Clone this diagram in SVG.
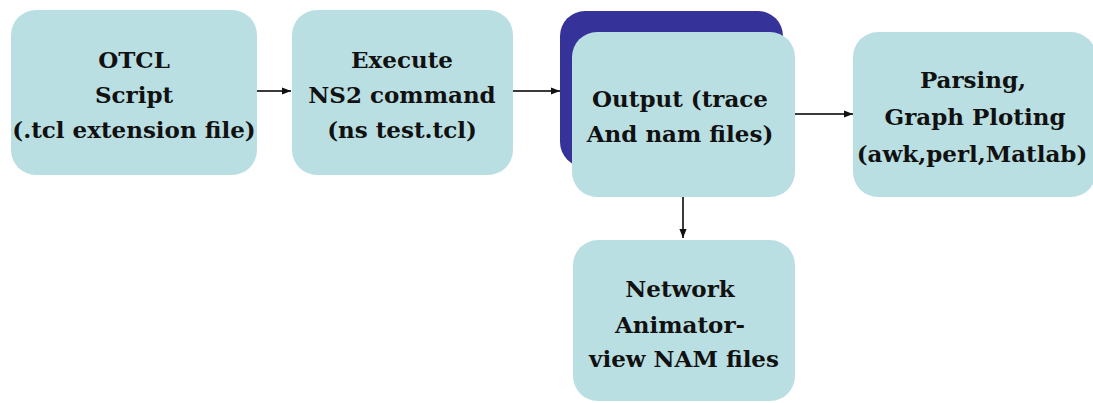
<svg xmlns="http://www.w3.org/2000/svg" width="1093" height="403" viewBox="0 0 1093 403">
  <defs>
    <style>
      .box { fill: #badfe2; }
      .back { fill: #353399; }
      .label { font-family: "DejaVu Serif", "Liberation Serif", serif; font-weight: bold; font-size: 23px; fill: #111; text-anchor: middle; }
      .link { stroke: #3a3a3a; stroke-width: 2; fill: none; }
    </style>
    <marker id="arrow" viewBox="0 0 10 10" refX="10" refY="5" markerWidth="9" markerHeight="9" markerUnits="userSpaceOnUse" orient="auto">
      <path d="M0,1 L10,5 L0,9 Z" fill="#111"/>
    </marker>
  </defs>
  <rect width="1093" height="403" fill="#ffffff"/>

  <g id="connectors">
    <line class="link" x1="257" y1="91" x2="291" y2="91" marker-end="url(#arrow)"/>
    <line class="link" x1="513" y1="91" x2="560" y2="91" marker-end="url(#arrow)"/>
    <line class="link" x1="795" y1="114" x2="853" y2="114" marker-end="url(#arrow)"/>
    <line class="link" x1="683" y1="197" x2="683" y2="238" marker-end="url(#arrow)"/>
  </g>

  <g id="otcl-script">
    <rect class="box" x="11" y="10" width="246" height="165" rx="25" ry="25"/>
    <text class="label" x="134" y="68">OTCL</text>
    <text class="label" x="134" y="103">Script</text>
    <text class="label" x="134" y="138">(.tcl extension file)</text>
  </g>

  <g id="execute-ns2">
    <rect class="box" x="292" y="10" width="221" height="165" rx="25" ry="25"/>
    <text class="label" x="402" y="68">Execute</text>
    <text class="label" x="402" y="103">NS2 command</text>
    <text class="label" x="402" y="138">(ns test.tcl)</text>
  </g>

  <g id="output-files">
    <!-- shadow card behind the output box -->
    <rect class="back" x="560" y="11" width="223" height="156" rx="25" ry="25"/>
    <rect class="box" x="572" y="32" width="223" height="165" rx="25" ry="25"/>
    <text class="label" x="680" y="107">Output (trace</text>
    <text class="label" x="680" y="142">And nam files)</text>
  </g>

  <g id="parsing-plotting">
    <rect class="box" x="853" y="32" width="243" height="165" rx="25" ry="25"/>
    <text class="label" x="973" y="88">Parsing,</text>
    <text class="label" x="975" y="125">Graph Ploting</text>
    <text class="label" x="972" y="162">(awk,perl,Matlab)</text>
  </g>

  <g id="network-animator">
    <rect class="box" x="573" y="240" width="222" height="161" rx="25" ry="25"/>
    <text class="label" x="680" y="297">Network</text>
    <text class="label" x="680" y="333">Animator-</text>
    <text class="label" x="684" y="367">view NAM files</text>
  </g>
</svg>
